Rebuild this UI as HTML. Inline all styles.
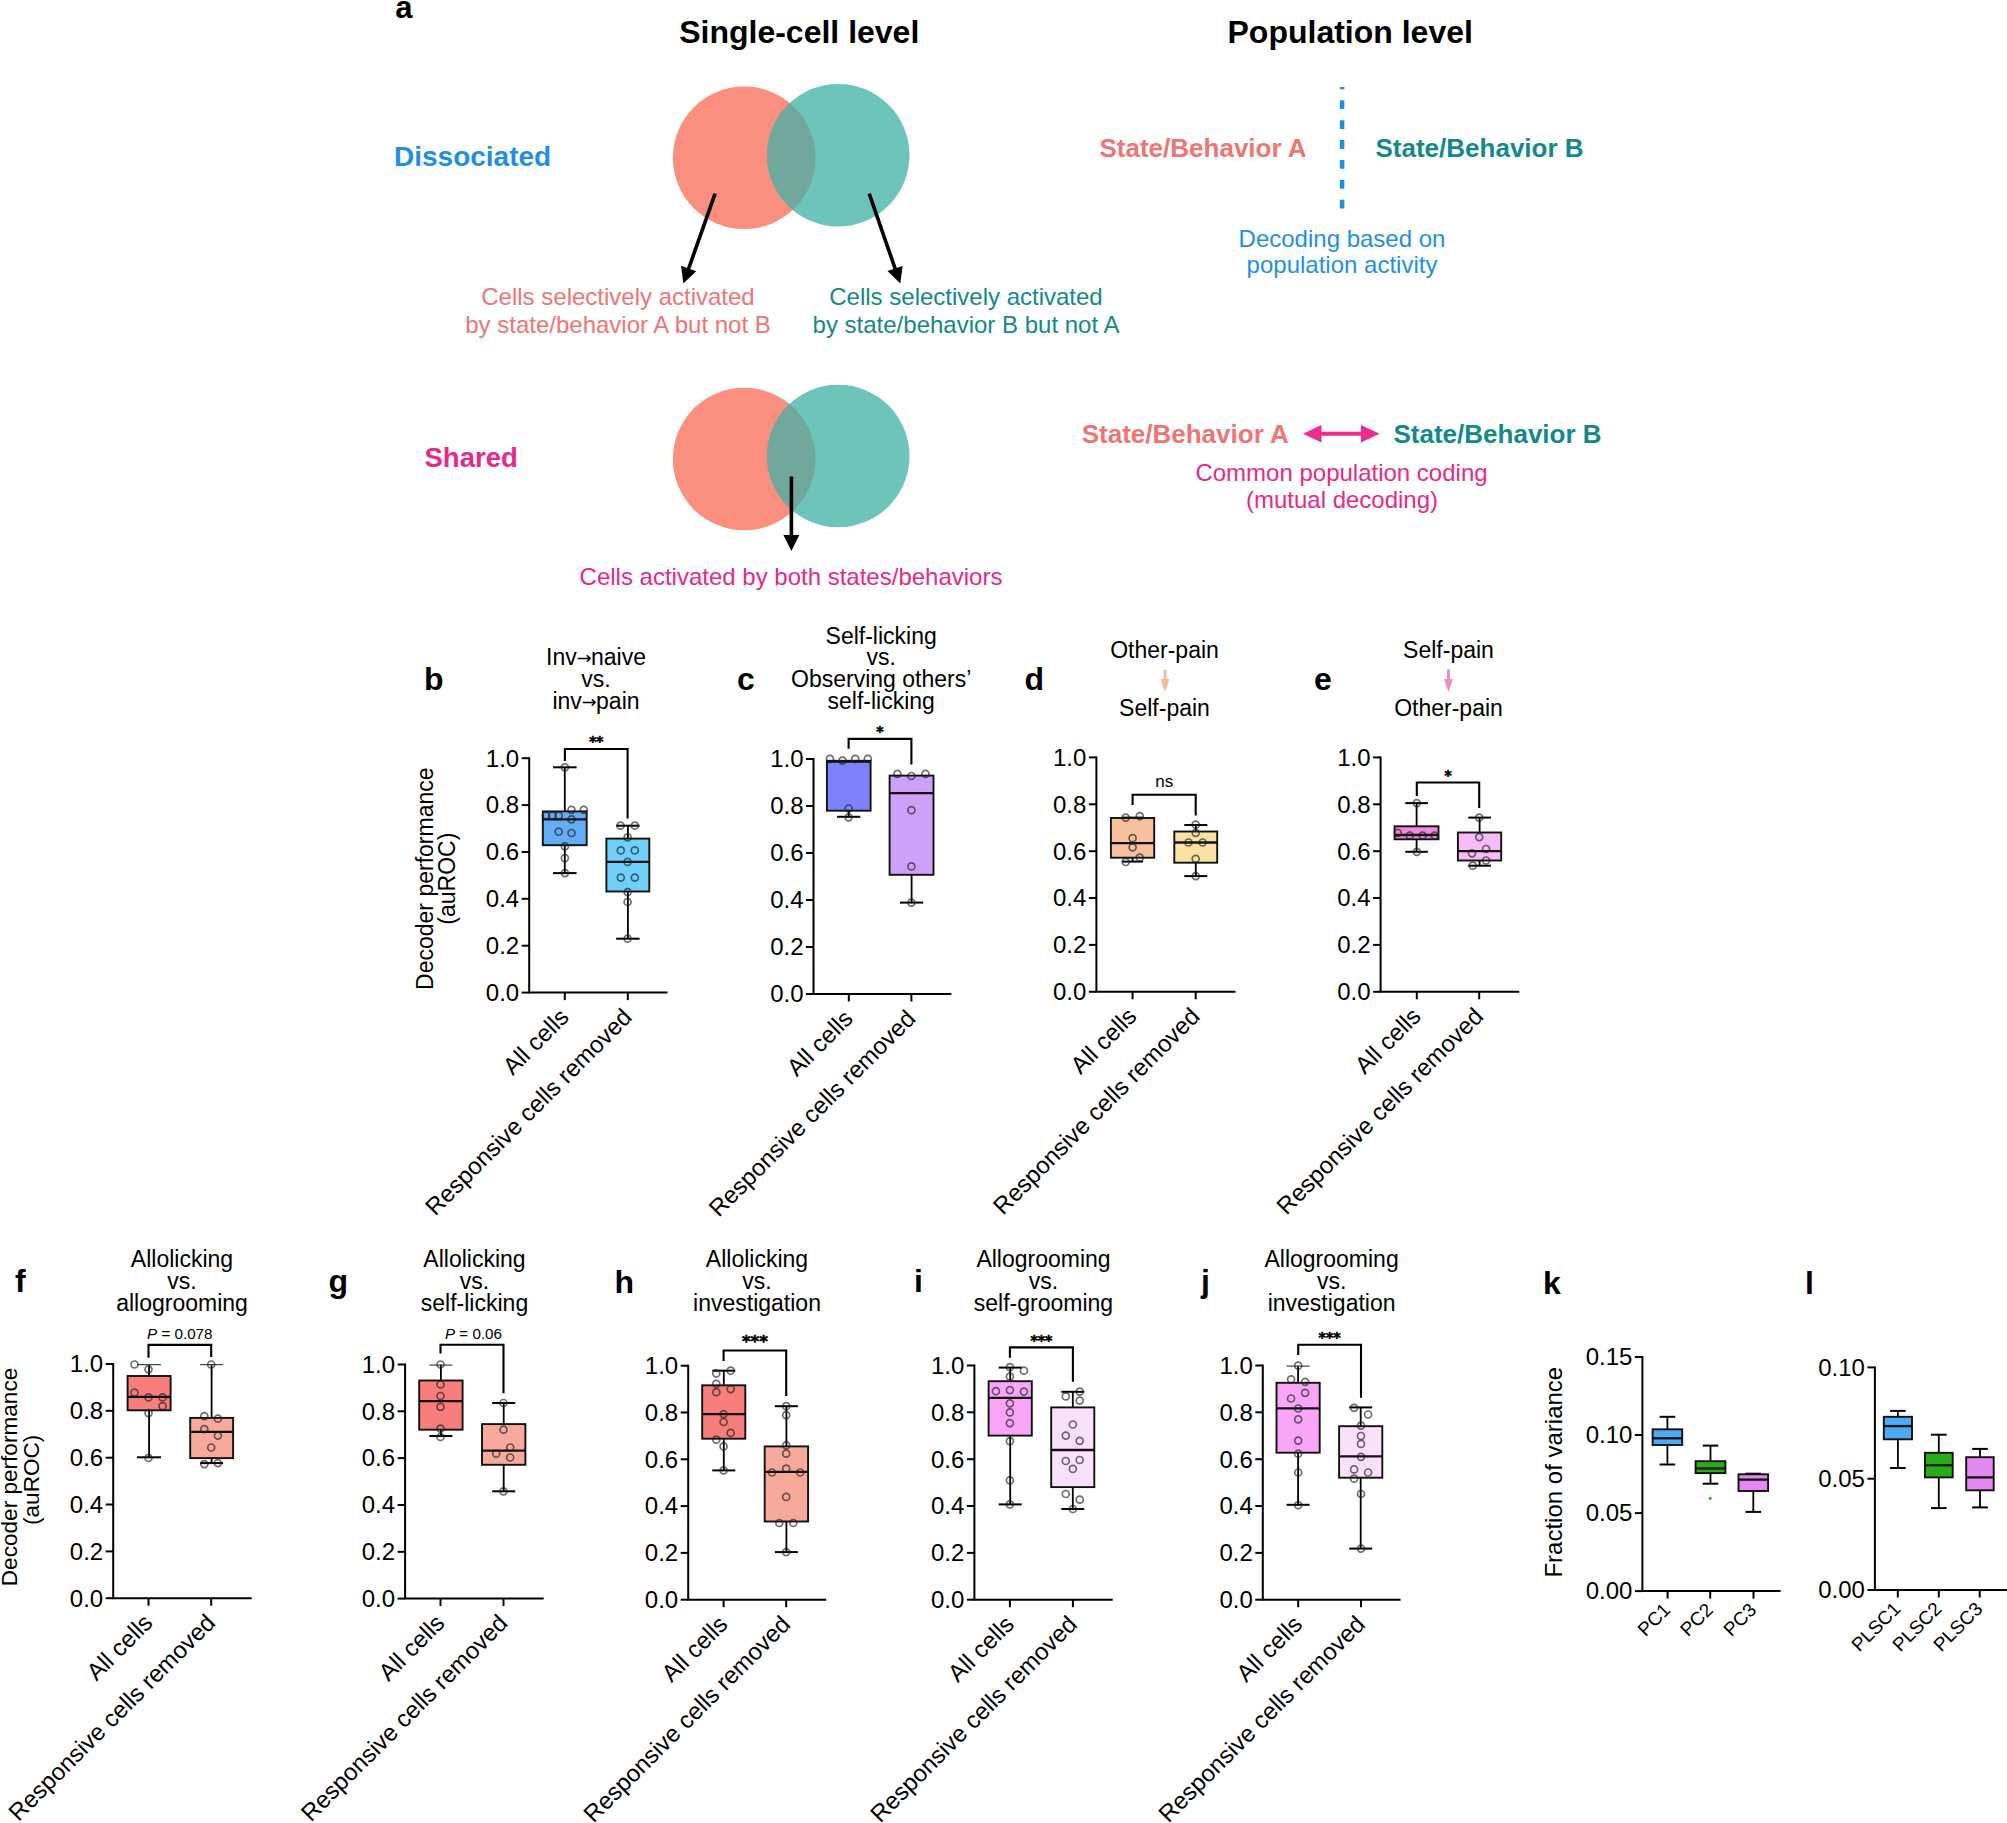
<!DOCTYPE html>
<html><head><meta charset="utf-8"><title>Figure</title>
<style>
html,body{margin:0;padding:0;background:#fff;}
svg{display:block;}
svg text{font-family:'Liberation Sans', Arial, Helvetica, sans-serif;}
</style></head>
<body>
<svg width="2007" height="1823" viewBox="0 0 2007 1823">
<rect x="0" y="0" width="2007" height="1823" fill="#fff"/>
<text x="395.2" y="18.0" font-size="31" text-anchor="start" font-weight="bold" fill="#000" >a</text>
<text x="679.2" y="43.3" font-size="32" text-anchor="start" font-weight="bold" fill="#000" >Single-cell level</text>
<text x="1227.5" y="43.3" font-size="32" text-anchor="start" font-weight="bold" fill="#000" >Population level</text>
<text x="394.0" y="166.1" font-size="28" text-anchor="start" font-weight="bold" fill="#1f8fe6" >Dissociated</text>
<text x="424.5" y="466.6" font-size="27.5" text-anchor="start" font-weight="bold" fill="#e8288a" >Shared</text>
<circle cx="744.2" cy="157.8" r="71.3" fill="#fb8f7f"/>
<circle cx="838.2" cy="155.2" r="71.3" fill="#6cc4bb"/>
<clipPath id="clipv157"><circle cx="744.2" cy="157.8" r="71.3"/></clipPath>
<circle cx="838.2" cy="155.2" r="71.3" fill="#72a89b" clip-path="url(#clipv157)"/>
<circle cx="744.2" cy="459.0" r="71.3" fill="#fb8f7f"/>
<circle cx="838.2" cy="456.0" r="71.3" fill="#6cc4bb"/>
<clipPath id="clipv459"><circle cx="744.2" cy="459.0" r="71.3"/></clipPath>
<circle cx="838.2" cy="456.0" r="71.3" fill="#72a89b" clip-path="url(#clipv459)"/>
<line x1="715.1" y1="193.6" x2="688.3" y2="269.5" stroke="#000" stroke-width="3.6" />
<polygon points="683.3,283.6 681.1,265.8 696.2,271.2" fill="#000"/>
<line x1="869.2" y1="193.6" x2="895.4" y2="269.4" stroke="#000" stroke-width="3.6" />
<polygon points="900.3,283.6 887.5,271.1 902.6,265.9" fill="#000"/>
<line x1="791.4" y1="476.5" x2="791.4" y2="536.0" stroke="#000" stroke-width="3.6" />
<polygon points="791.4,551.0 783.4,535.0 799.4,535.0" fill="#000"/>
<text x="618.0" y="305.2" font-size="24" text-anchor="middle" fill="#ef7574" >Cells selectively activated</text>
<text x="618.0" y="332.9" font-size="24" text-anchor="middle" fill="#ef7574" >by state/behavior A but not B</text>
<text x="966.0" y="305.2" font-size="24" text-anchor="middle" fill="#13898a" >Cells selectively activated</text>
<text x="966.0" y="333.0" font-size="24" text-anchor="middle" fill="#13898a" >by state/behavior B but not A</text>
<text x="791.0" y="585.0" font-size="24" text-anchor="middle" fill="#e8288a" >Cells activated by both states/behaviors</text>
<text x="1099.5" y="156.7" font-size="26" text-anchor="start" font-weight="bold" fill="#ef7574" >State/Behavior A</text>
<text x="1375.5" y="156.7" font-size="26" text-anchor="start" font-weight="bold" fill="#13898a" >State/Behavior B</text>
<line x1="1342.1" y1="87" x2="1342.1" y2="208.7" stroke="#1f8fe6" stroke-width="4.5" stroke-dasharray="8.8 11.1" stroke-dashoffset="6.6"/>
<text x="1342.0" y="246.5" font-size="24" text-anchor="middle" fill="#1f8fe6" >Decoding based on</text>
<text x="1342.0" y="273.0" font-size="24" text-anchor="middle" fill="#1f8fe6" >population activity</text>
<text x="1081.7" y="442.9" font-size="26" text-anchor="start" font-weight="bold" fill="#ef7574" >State/Behavior A</text>
<text x="1393.5" y="442.9" font-size="26" text-anchor="start" font-weight="bold" fill="#13898a" >State/Behavior B</text>
<line x1="1315" y1="433.8" x2="1367" y2="433.8" stroke="#ec2d8d" stroke-width="4"/>
<polygon points="1302.9,433.8 1321.5,425 1321.5,442.6" fill="#ec2d8d"/>
<polygon points="1379.7,433.8 1361,425 1361,442.6" fill="#ec2d8d"/>
<text x="1341.5" y="480.8" font-size="24" text-anchor="middle" fill="#e8288a" >Common population coding</text>
<text x="1342.0" y="508.3" font-size="24" text-anchor="middle" fill="#e8288a" >(mutual decoding)</text>
<line x1="564.8" y1="811.4" x2="564.8" y2="767.3" stroke="#000" stroke-width="1.8" />
<line x1="553.0" y1="767.3" x2="576.6" y2="767.3" stroke="#000" stroke-width="2" />
<line x1="564.8" y1="845.2" x2="564.8" y2="873.1" stroke="#000" stroke-width="1.8" />
<line x1="553.0" y1="873.1" x2="576.6" y2="873.1" stroke="#000" stroke-width="2" />
<rect x="542.8" y="811.4" width="43.9" height="33.8" fill="#62adf6" stroke="#111" stroke-width="1.9"/>
<line x1="542.8" y1="819.3" x2="586.8" y2="819.3" stroke="#111" stroke-width="2.3" />
<circle cx="564.9" cy="767.3" r="3.5" fill="none" stroke="rgba(30,30,30,0.64)" stroke-width="1.7"/>
<circle cx="571.5" cy="809.8" r="3.5" fill="none" stroke="rgba(30,30,30,0.64)" stroke-width="1.7"/>
<circle cx="583.8" cy="809.8" r="3.5" fill="none" stroke="rgba(30,30,30,0.64)" stroke-width="1.7"/>
<circle cx="545.9" cy="815.6" r="3.5" fill="none" stroke="rgba(30,30,30,0.64)" stroke-width="1.7"/>
<circle cx="552.5" cy="815.6" r="3.5" fill="none" stroke="rgba(30,30,30,0.64)" stroke-width="1.7"/>
<circle cx="558.7" cy="815.6" r="3.5" fill="none" stroke="rgba(30,30,30,0.64)" stroke-width="1.7"/>
<circle cx="571.5" cy="819.3" r="3.5" fill="none" stroke="rgba(30,30,30,0.64)" stroke-width="1.7"/>
<circle cx="558.7" cy="831.7" r="3.5" fill="none" stroke="rgba(30,30,30,0.64)" stroke-width="1.7"/>
<circle cx="571.5" cy="833.0" r="3.5" fill="none" stroke="rgba(30,30,30,0.64)" stroke-width="1.7"/>
<circle cx="564.9" cy="846.3" r="3.5" fill="none" stroke="rgba(30,30,30,0.64)" stroke-width="1.7"/>
<circle cx="564.9" cy="858.1" r="3.5" fill="none" stroke="rgba(30,30,30,0.64)" stroke-width="1.7"/>
<circle cx="564.9" cy="873.1" r="3.5" fill="none" stroke="rgba(30,30,30,0.64)" stroke-width="1.7"/>
<line x1="627.9" y1="838.6" x2="627.9" y2="825.7" stroke="#000" stroke-width="1.8" />
<line x1="616.2" y1="825.7" x2="639.6" y2="825.7" stroke="#000" stroke-width="2" />
<line x1="627.9" y1="891.5" x2="627.9" y2="938.7" stroke="#000" stroke-width="1.8" />
<line x1="616.2" y1="938.7" x2="639.6" y2="938.7" stroke="#000" stroke-width="2" />
<rect x="606.4" y="838.6" width="42.9" height="52.9" fill="#6fd1f9" stroke="#111" stroke-width="1.9"/>
<line x1="606.4" y1="861.9" x2="649.4" y2="861.9" stroke="#111" stroke-width="2.3" />
<circle cx="620.5" cy="825.7" r="3.5" fill="none" stroke="rgba(30,30,30,0.64)" stroke-width="1.7"/>
<circle cx="634.8" cy="825.7" r="3.5" fill="none" stroke="rgba(30,30,30,0.64)" stroke-width="1.7"/>
<circle cx="627.6" cy="837.4" r="3.5" fill="none" stroke="rgba(30,30,30,0.64)" stroke-width="1.7"/>
<circle cx="620.8" cy="850.4" r="3.5" fill="none" stroke="rgba(30,30,30,0.64)" stroke-width="1.7"/>
<circle cx="634.8" cy="850.4" r="3.5" fill="none" stroke="rgba(30,30,30,0.64)" stroke-width="1.7"/>
<circle cx="627.6" cy="861.9" r="3.5" fill="none" stroke="rgba(30,30,30,0.64)" stroke-width="1.7"/>
<circle cx="620.8" cy="877.6" r="3.5" fill="none" stroke="rgba(30,30,30,0.64)" stroke-width="1.7"/>
<circle cx="634.8" cy="877.6" r="3.5" fill="none" stroke="rgba(30,30,30,0.64)" stroke-width="1.7"/>
<circle cx="627.6" cy="892.1" r="3.5" fill="none" stroke="rgba(30,30,30,0.64)" stroke-width="1.7"/>
<circle cx="627.6" cy="902.0" r="3.5" fill="none" stroke="rgba(30,30,30,0.64)" stroke-width="1.7"/>
<circle cx="627.6" cy="938.7" r="3.5" fill="none" stroke="rgba(30,30,30,0.64)" stroke-width="1.7"/>
<path d="M529.2,757.2 L529.2,992.6 L667.5,992.6" fill="none" stroke="#000" stroke-width="2"/>
<line x1="521.7" y1="992.6" x2="529.2" y2="992.6" stroke="#000" stroke-width="2" />
<text x="519.2" y="1000.9" font-size="24" text-anchor="end" fill="#000" >0.0</text>
<line x1="521.7" y1="945.7" x2="529.2" y2="945.7" stroke="#000" stroke-width="2" />
<text x="519.2" y="954.0" font-size="24" text-anchor="end" fill="#000" >0.2</text>
<line x1="521.7" y1="898.8" x2="529.2" y2="898.8" stroke="#000" stroke-width="2" />
<text x="519.2" y="907.1" font-size="24" text-anchor="end" fill="#000" >0.4</text>
<line x1="521.7" y1="852.0" x2="529.2" y2="852.0" stroke="#000" stroke-width="2" />
<text x="519.2" y="860.3" font-size="24" text-anchor="end" fill="#000" >0.6</text>
<line x1="521.7" y1="805.1" x2="529.2" y2="805.1" stroke="#000" stroke-width="2" />
<text x="519.2" y="813.4" font-size="24" text-anchor="end" fill="#000" >0.8</text>
<line x1="521.7" y1="758.2" x2="529.2" y2="758.2" stroke="#000" stroke-width="2" />
<text x="519.2" y="766.5" font-size="24" text-anchor="end" fill="#000" >1.0</text>
<line x1="564.8" y1="992.6" x2="564.8" y2="1000.1" stroke="#000" stroke-width="2" />
<line x1="627.8" y1="992.6" x2="627.8" y2="1000.1" stroke="#000" stroke-width="2" />
<text x="0.0" y="0.0" font-size="24" text-anchor="end" fill="#000" transform="translate(570.3,1018.6) rotate(-45)">All cells</text>
<text x="0.0" y="0.0" font-size="24" text-anchor="end" fill="#000" transform="translate(633.3,1018.6) rotate(-45)">Responsive cells removed</text>
<path d="M564.9,761.0 L564.9,749.0 L627.6,749.0 L627.6,818.6" fill="none" stroke="#000" stroke-width="2.1"/>
<text x="596.2" y="746.4" font-size="13.5" text-anchor="middle" font-weight="bold" fill="#000" style="font-family:DejaVu Sans,sans-serif" stroke="#000" stroke-width="0.6">**</text>
<text x="596.0" y="665.2" font-size="23" text-anchor="middle" fill="#000" >Inv<tspan style="font-family:DejaVu Sans,sans-serif" font-size="17.7" dy="-0.8">→</tspan><tspan dx="-0.6" dy="0.8">naive</tspan></text>
<text x="596.0" y="687.3" font-size="23" text-anchor="middle" fill="#000" >vs.</text>
<text x="596.0" y="708.7" font-size="23" text-anchor="middle" fill="#000" >inv<tspan style="font-family:DejaVu Sans,sans-serif" font-size="17.7" dy="-0.8">→</tspan><tspan dx="-0.6" dy="0.8">pain</tspan></text>
<text x="424.0" y="690.2" font-size="32" text-anchor="start" font-weight="bold" fill="#000" >b</text>
<text x="0.0" y="0.0" font-size="23" text-anchor="middle" fill="#000" transform="translate(433.3,878.7) rotate(-90)">Decoder performance</text>
<text x="0.0" y="0.0" font-size="23" text-anchor="middle" fill="#000" transform="translate(454.8,878.7) rotate(-90)">(auROC)</text>
<line x1="848.7" y1="810.7" x2="848.7" y2="816.8" stroke="#000" stroke-width="1.8" />
<line x1="837.1" y1="816.8" x2="860.3" y2="816.8" stroke="#000" stroke-width="2" />
<rect x="826.9" y="760.8" width="43.7" height="49.9" fill="#7d82fa" stroke="#111" stroke-width="1.9"/>
<line x1="826.9" y1="761.5" x2="870.6" y2="761.5" stroke="#111" stroke-width="2.3" />
<circle cx="830.0" cy="758.9" r="3.5" fill="none" stroke="rgba(30,30,30,0.64)" stroke-width="1.7"/>
<circle cx="842.5" cy="760.6" r="3.5" fill="none" stroke="rgba(30,30,30,0.64)" stroke-width="1.7"/>
<circle cx="855.2" cy="758.9" r="3.5" fill="none" stroke="rgba(30,30,30,0.64)" stroke-width="1.7"/>
<circle cx="867.8" cy="758.9" r="3.5" fill="none" stroke="rgba(30,30,30,0.64)" stroke-width="1.7"/>
<circle cx="848.6" cy="808.5" r="3.5" fill="none" stroke="rgba(30,30,30,0.64)" stroke-width="1.7"/>
<circle cx="848.6" cy="817.3" r="3.5" fill="none" stroke="rgba(30,30,30,0.64)" stroke-width="1.7"/>
<line x1="911.6" y1="874.8" x2="911.6" y2="902.6" stroke="#000" stroke-width="1.8" />
<line x1="900.0" y1="902.6" x2="923.2" y2="902.6" stroke="#000" stroke-width="2" />
<rect x="889.6" y="775.6" width="43.9" height="99.2" fill="#cda0fa" stroke="#111" stroke-width="1.9"/>
<line x1="889.6" y1="793.1" x2="933.6" y2="793.1" stroke="#111" stroke-width="2.3" />
<circle cx="897.4" cy="773.8" r="3.5" fill="none" stroke="rgba(30,30,30,0.64)" stroke-width="1.7"/>
<circle cx="911.4" cy="776.0" r="3.5" fill="none" stroke="rgba(30,30,30,0.64)" stroke-width="1.7"/>
<circle cx="925.5" cy="773.8" r="3.5" fill="none" stroke="rgba(30,30,30,0.64)" stroke-width="1.7"/>
<circle cx="911.4" cy="810.2" r="3.5" fill="none" stroke="rgba(30,30,30,0.64)" stroke-width="1.7"/>
<circle cx="911.4" cy="866.4" r="3.5" fill="none" stroke="rgba(30,30,30,0.64)" stroke-width="1.7"/>
<circle cx="911.4" cy="902.6" r="3.5" fill="none" stroke="rgba(30,30,30,0.64)" stroke-width="1.7"/>
<path d="M813.5,758.0 L813.5,994.0 L951.4,994.0" fill="none" stroke="#000" stroke-width="2"/>
<line x1="806.0" y1="994.0" x2="813.5" y2="994.0" stroke="#000" stroke-width="2" />
<text x="803.5" y="1002.3" font-size="24" text-anchor="end" fill="#000" >0.0</text>
<line x1="806.0" y1="947.0" x2="813.5" y2="947.0" stroke="#000" stroke-width="2" />
<text x="803.5" y="955.3" font-size="24" text-anchor="end" fill="#000" >0.2</text>
<line x1="806.0" y1="900.0" x2="813.5" y2="900.0" stroke="#000" stroke-width="2" />
<text x="803.5" y="908.3" font-size="24" text-anchor="end" fill="#000" >0.4</text>
<line x1="806.0" y1="853.0" x2="813.5" y2="853.0" stroke="#000" stroke-width="2" />
<text x="803.5" y="861.3" font-size="24" text-anchor="end" fill="#000" >0.6</text>
<line x1="806.0" y1="806.0" x2="813.5" y2="806.0" stroke="#000" stroke-width="2" />
<text x="803.5" y="814.3" font-size="24" text-anchor="end" fill="#000" >0.8</text>
<line x1="806.0" y1="759.0" x2="813.5" y2="759.0" stroke="#000" stroke-width="2" />
<text x="803.5" y="767.3" font-size="24" text-anchor="end" fill="#000" >1.0</text>
<line x1="848.8" y1="994.0" x2="848.8" y2="1001.5" stroke="#000" stroke-width="2" />
<line x1="911.4" y1="994.0" x2="911.4" y2="1001.5" stroke="#000" stroke-width="2" />
<text x="0.0" y="0.0" font-size="24" text-anchor="end" fill="#000" transform="translate(854.3,1020.0) rotate(-45)">All cells</text>
<text x="0.0" y="0.0" font-size="24" text-anchor="end" fill="#000" transform="translate(916.9,1020.0) rotate(-45)">Responsive cells removed</text>
<path d="M848.6,748.8 L848.6,738.9 L911.4,738.9 L911.4,764.6" fill="none" stroke="#000" stroke-width="2.1"/>
<text x="880.0" y="736.4" font-size="14" text-anchor="middle" font-weight="bold" fill="#000" style="font-family:DejaVu Sans,sans-serif" stroke="#000" stroke-width="0.6">*</text>
<text x="881.2" y="643.6" font-size="23" text-anchor="middle" fill="#000" >Self-licking</text>
<text x="881.2" y="665.0" font-size="23" text-anchor="middle" fill="#000" >vs.</text>
<text x="881.2" y="686.6" font-size="23" text-anchor="middle" fill="#000" >Observing others’</text>
<text x="881.2" y="708.6" font-size="23" text-anchor="middle" fill="#000" >self-licking</text>
<text x="737.0" y="689.7" font-size="32" text-anchor="start" font-weight="bold" fill="#000" >c</text>
<line x1="1132.6" y1="818.0" x2="1132.6" y2="817.6" stroke="#000" stroke-width="1.8" />
<line x1="1122.1" y1="817.6" x2="1143.1" y2="817.6" stroke="#000" stroke-width="2" />
<line x1="1132.6" y1="857.7" x2="1132.6" y2="861.6" stroke="#000" stroke-width="1.8" />
<line x1="1122.1" y1="861.6" x2="1143.1" y2="861.6" stroke="#000" stroke-width="2" />
<rect x="1110.9" y="818.0" width="43.3" height="39.7" fill="#f9c09e" stroke="#111" stroke-width="1.9"/>
<line x1="1110.9" y1="843.2" x2="1154.2" y2="843.2" stroke="#111" stroke-width="2.3" />
<circle cx="1125.7" cy="817.6" r="3.5" fill="none" stroke="rgba(30,30,30,0.64)" stroke-width="1.7"/>
<circle cx="1139.8" cy="816.1" r="3.5" fill="none" stroke="rgba(30,30,30,0.64)" stroke-width="1.7"/>
<circle cx="1132.6" cy="838.2" r="3.5" fill="none" stroke="rgba(30,30,30,0.64)" stroke-width="1.7"/>
<circle cx="1132.6" cy="847.3" r="3.5" fill="none" stroke="rgba(30,30,30,0.64)" stroke-width="1.7"/>
<circle cx="1125.7" cy="862.0" r="3.5" fill="none" stroke="rgba(30,30,30,0.64)" stroke-width="1.7"/>
<circle cx="1139.8" cy="857.7" r="3.5" fill="none" stroke="rgba(30,30,30,0.64)" stroke-width="1.7"/>
<line x1="1195.8" y1="831.5" x2="1195.8" y2="825.0" stroke="#000" stroke-width="1.8" />
<line x1="1184.3" y1="825.0" x2="1207.3" y2="825.0" stroke="#000" stroke-width="2" />
<line x1="1195.8" y1="862.7" x2="1195.8" y2="876.1" stroke="#000" stroke-width="1.8" />
<line x1="1184.3" y1="876.1" x2="1207.3" y2="876.1" stroke="#000" stroke-width="2" />
<rect x="1174.3" y="831.5" width="42.9" height="31.2" fill="#f9e2a3" stroke="#111" stroke-width="1.9"/>
<line x1="1174.3" y1="842.5" x2="1217.2" y2="842.5" stroke="#111" stroke-width="2.3" />
<circle cx="1195.7" cy="824.7" r="3.5" fill="none" stroke="rgba(30,30,30,0.64)" stroke-width="1.7"/>
<circle cx="1195.7" cy="832.8" r="3.5" fill="none" stroke="rgba(30,30,30,0.64)" stroke-width="1.7"/>
<circle cx="1188.5" cy="842.5" r="3.5" fill="none" stroke="rgba(30,30,30,0.64)" stroke-width="1.7"/>
<circle cx="1202.6" cy="842.5" r="3.5" fill="none" stroke="rgba(30,30,30,0.64)" stroke-width="1.7"/>
<circle cx="1195.7" cy="858.8" r="3.5" fill="none" stroke="rgba(30,30,30,0.64)" stroke-width="1.7"/>
<circle cx="1195.7" cy="876.1" r="3.5" fill="none" stroke="rgba(30,30,30,0.64)" stroke-width="1.7"/>
<path d="M1096.4,756.4 L1096.4,991.8 L1235.5,991.8" fill="none" stroke="#000" stroke-width="2"/>
<line x1="1088.9" y1="991.8" x2="1096.4" y2="991.8" stroke="#000" stroke-width="2" />
<text x="1086.4" y="1000.1" font-size="24" text-anchor="end" fill="#000" >0.0</text>
<line x1="1088.9" y1="944.9" x2="1096.4" y2="944.9" stroke="#000" stroke-width="2" />
<text x="1086.4" y="953.2" font-size="24" text-anchor="end" fill="#000" >0.2</text>
<line x1="1088.9" y1="898.0" x2="1096.4" y2="898.0" stroke="#000" stroke-width="2" />
<text x="1086.4" y="906.3" font-size="24" text-anchor="end" fill="#000" >0.4</text>
<line x1="1088.9" y1="851.2" x2="1096.4" y2="851.2" stroke="#000" stroke-width="2" />
<text x="1086.4" y="859.5" font-size="24" text-anchor="end" fill="#000" >0.6</text>
<line x1="1088.9" y1="804.3" x2="1096.4" y2="804.3" stroke="#000" stroke-width="2" />
<text x="1086.4" y="812.6" font-size="24" text-anchor="end" fill="#000" >0.8</text>
<line x1="1088.9" y1="757.4" x2="1096.4" y2="757.4" stroke="#000" stroke-width="2" />
<text x="1086.4" y="765.7" font-size="24" text-anchor="end" fill="#000" >1.0</text>
<line x1="1132.6" y1="991.8" x2="1132.6" y2="999.3" stroke="#000" stroke-width="2" />
<line x1="1195.7" y1="991.8" x2="1195.7" y2="999.3" stroke="#000" stroke-width="2" />
<text x="0.0" y="0.0" font-size="24" text-anchor="end" fill="#000" transform="translate(1138.1,1017.8) rotate(-45)">All cells</text>
<text x="0.0" y="0.0" font-size="24" text-anchor="end" fill="#000" transform="translate(1201.2,1017.8) rotate(-45)">Responsive cells removed</text>
<path d="M1132.6,805.0 L1132.6,794.8 L1195.7,794.8 L1195.7,815.4" fill="none" stroke="#000" stroke-width="2.1"/>
<text x="1164.2" y="786.5" font-size="17" text-anchor="middle" fill="#000" >ns</text>
<text x="1164.5" y="658.3" font-size="23" text-anchor="middle" fill="#000" >Other-pain</text>
<text x="1164.5" y="715.8" font-size="23" text-anchor="middle" fill="#000" >Self-pain</text>
<text x="1024.5" y="689.8" font-size="32" text-anchor="start" font-weight="bold" fill="#000" >d</text>
<line x1="1165.0" y1="669.8" x2="1165.0" y2="680" stroke="#f2bb95" stroke-width="3"/>
<polygon points="1165.0,692.2 1160.6,679 1169.4,679" fill="#f2bb95"/>
<line x1="1416.6" y1="826.3" x2="1416.6" y2="803.1" stroke="#000" stroke-width="1.8" />
<line x1="1405.3" y1="803.1" x2="1427.9" y2="803.1" stroke="#000" stroke-width="2" />
<line x1="1416.6" y1="839.3" x2="1416.6" y2="851.8" stroke="#000" stroke-width="1.8" />
<line x1="1405.3" y1="851.8" x2="1427.9" y2="851.8" stroke="#000" stroke-width="2" />
<rect x="1394.6" y="826.3" width="43.9" height="13.0" fill="#f189e0" stroke="#111" stroke-width="1.9"/>
<line x1="1394.6" y1="835.0" x2="1438.5" y2="835.0" stroke="#111" stroke-width="2.3" />
<circle cx="1416.8" cy="803.1" r="3.5" fill="none" stroke="rgba(30,30,30,0.64)" stroke-width="1.7"/>
<circle cx="1397.7" cy="832.8" r="3.5" fill="none" stroke="rgba(30,30,30,0.64)" stroke-width="1.7"/>
<circle cx="1409.8" cy="835.6" r="3.5" fill="none" stroke="rgba(30,30,30,0.64)" stroke-width="1.7"/>
<circle cx="1422.6" cy="835.6" r="3.5" fill="none" stroke="rgba(30,30,30,0.64)" stroke-width="1.7"/>
<circle cx="1434.7" cy="835.6" r="3.5" fill="none" stroke="rgba(30,30,30,0.64)" stroke-width="1.7"/>
<circle cx="1416.8" cy="851.8" r="3.5" fill="none" stroke="rgba(30,30,30,0.64)" stroke-width="1.7"/>
<line x1="1479.6" y1="832.5" x2="1479.6" y2="817.6" stroke="#000" stroke-width="1.8" />
<line x1="1468.3" y1="817.6" x2="1490.9" y2="817.6" stroke="#000" stroke-width="2" />
<line x1="1479.6" y1="860.5" x2="1479.6" y2="865.7" stroke="#000" stroke-width="1.8" />
<line x1="1468.3" y1="865.7" x2="1490.9" y2="865.7" stroke="#000" stroke-width="2" />
<rect x="1457.9" y="832.5" width="43.3" height="28.0" fill="#f7bcf7" stroke="#111" stroke-width="1.9"/>
<line x1="1457.9" y1="851.2" x2="1501.2" y2="851.2" stroke="#111" stroke-width="2.3" />
<circle cx="1479.2" cy="817.6" r="3.5" fill="none" stroke="rgba(30,30,30,0.64)" stroke-width="1.7"/>
<circle cx="1479.2" cy="837.1" r="3.5" fill="none" stroke="rgba(30,30,30,0.64)" stroke-width="1.7"/>
<circle cx="1472.0" cy="853.3" r="3.5" fill="none" stroke="rgba(30,30,30,0.64)" stroke-width="1.7"/>
<circle cx="1486.1" cy="849.0" r="3.5" fill="none" stroke="rgba(30,30,30,0.64)" stroke-width="1.7"/>
<circle cx="1486.1" cy="860.5" r="3.5" fill="none" stroke="rgba(30,30,30,0.64)" stroke-width="1.7"/>
<circle cx="1472.7" cy="865.7" r="3.5" fill="none" stroke="rgba(30,30,30,0.64)" stroke-width="1.7"/>
<path d="M1380.6,756.4 L1380.6,991.8 L1519.3,991.8" fill="none" stroke="#000" stroke-width="2"/>
<line x1="1373.1" y1="991.8" x2="1380.6" y2="991.8" stroke="#000" stroke-width="2" />
<text x="1370.6" y="1000.1" font-size="24" text-anchor="end" fill="#000" >0.0</text>
<line x1="1373.1" y1="944.9" x2="1380.6" y2="944.9" stroke="#000" stroke-width="2" />
<text x="1370.6" y="953.2" font-size="24" text-anchor="end" fill="#000" >0.2</text>
<line x1="1373.1" y1="898.0" x2="1380.6" y2="898.0" stroke="#000" stroke-width="2" />
<text x="1370.6" y="906.3" font-size="24" text-anchor="end" fill="#000" >0.4</text>
<line x1="1373.1" y1="851.2" x2="1380.6" y2="851.2" stroke="#000" stroke-width="2" />
<text x="1370.6" y="859.5" font-size="24" text-anchor="end" fill="#000" >0.6</text>
<line x1="1373.1" y1="804.3" x2="1380.6" y2="804.3" stroke="#000" stroke-width="2" />
<text x="1370.6" y="812.6" font-size="24" text-anchor="end" fill="#000" >0.8</text>
<line x1="1373.1" y1="757.4" x2="1380.6" y2="757.4" stroke="#000" stroke-width="2" />
<text x="1370.6" y="765.7" font-size="24" text-anchor="end" fill="#000" >1.0</text>
<line x1="1416.8" y1="991.8" x2="1416.8" y2="999.3" stroke="#000" stroke-width="2" />
<line x1="1479.2" y1="991.8" x2="1479.2" y2="999.3" stroke="#000" stroke-width="2" />
<text x="0.0" y="0.0" font-size="24" text-anchor="end" fill="#000" transform="translate(1422.3,1017.8) rotate(-45)">All cells</text>
<text x="0.0" y="0.0" font-size="24" text-anchor="end" fill="#000" transform="translate(1484.7,1017.8) rotate(-45)">Responsive cells removed</text>
<path d="M1416.8,796.0 L1416.8,782.5 L1479.2,782.5 L1479.2,808.0" fill="none" stroke="#000" stroke-width="2.1"/>
<text x="1448.0" y="779.9" font-size="13.5" text-anchor="middle" font-weight="bold" fill="#000" style="font-family:DejaVu Sans,sans-serif" stroke="#000" stroke-width="0.6">*</text>
<text x="1448.5" y="658.3" font-size="23" text-anchor="middle" fill="#000" >Self-pain</text>
<text x="1448.5" y="715.8" font-size="23" text-anchor="middle" fill="#000" >Other-pain</text>
<text x="1314.0" y="689.8" font-size="32" text-anchor="start" font-weight="bold" fill="#000" >e</text>
<line x1="1448.5" y1="669.4" x2="1448.5" y2="680" stroke="#ee8dd6" stroke-width="3"/>
<polygon points="1448.5,692.2 1444.0,679 1453.0,679" fill="#ee8dd6"/>
<line x1="149.1" y1="1376.0" x2="149.1" y2="1364.5" stroke="#000" stroke-width="1.8" />
<line x1="137.1" y1="1364.6" x2="161.1" y2="1364.6" stroke="#444" stroke-width="1.2" />
<line x1="149.1" y1="1410.3" x2="149.1" y2="1457.3" stroke="#000" stroke-width="1.8" />
<line x1="137.1" y1="1457.3" x2="161.1" y2="1457.3" stroke="#000" stroke-width="2" />
<rect x="127.6" y="1376.0" width="43.0" height="34.3" fill="#f87e7b" stroke="#111" stroke-width="1.9"/>
<line x1="127.6" y1="1396.8" x2="170.6" y2="1396.8" stroke="#111" stroke-width="2.3" />
<circle cx="134.5" cy="1364.5" r="3.5" fill="none" stroke="rgba(30,30,30,0.64)" stroke-width="1.7"/>
<circle cx="148.5" cy="1369.3" r="3.5" fill="none" stroke="rgba(30,30,30,0.64)" stroke-width="1.7"/>
<circle cx="134.5" cy="1392.6" r="3.5" fill="none" stroke="rgba(30,30,30,0.64)" stroke-width="1.7"/>
<circle cx="148.5" cy="1397.4" r="3.5" fill="none" stroke="rgba(30,30,30,0.64)" stroke-width="1.7"/>
<circle cx="162.6" cy="1397.4" r="3.5" fill="none" stroke="rgba(30,30,30,0.64)" stroke-width="1.7"/>
<circle cx="162.6" cy="1406.2" r="3.5" fill="none" stroke="rgba(30,30,30,0.64)" stroke-width="1.7"/>
<circle cx="148.5" cy="1413.1" r="3.5" fill="none" stroke="rgba(30,30,30,0.64)" stroke-width="1.7"/>
<circle cx="148.5" cy="1457.9" r="3.5" fill="none" stroke="rgba(30,30,30,0.64)" stroke-width="1.7"/>
<line x1="211.6" y1="1417.9" x2="211.6" y2="1364.5" stroke="#000" stroke-width="1.8" />
<line x1="200.1" y1="1364.6" x2="223.1" y2="1364.6" stroke="#444" stroke-width="1.2" />
<line x1="211.6" y1="1458.1" x2="211.6" y2="1463.1" stroke="#000" stroke-width="1.8" />
<line x1="200.1" y1="1463.1" x2="223.1" y2="1463.1" stroke="#000" stroke-width="2" />
<rect x="190.2" y="1417.9" width="42.9" height="40.2" fill="#f7aa9c" stroke="#111" stroke-width="1.9"/>
<line x1="190.2" y1="1431.8" x2="233.0" y2="1431.8" stroke="#111" stroke-width="2.3" />
<circle cx="211.2" cy="1364.5" r="3.5" fill="none" stroke="rgba(30,30,30,0.64)" stroke-width="1.7"/>
<circle cx="204.3" cy="1416.2" r="3.5" fill="none" stroke="rgba(30,30,30,0.64)" stroke-width="1.7"/>
<circle cx="217.9" cy="1418.7" r="3.5" fill="none" stroke="rgba(30,30,30,0.64)" stroke-width="1.7"/>
<circle cx="204.3" cy="1429.1" r="3.5" fill="none" stroke="rgba(30,30,30,0.64)" stroke-width="1.7"/>
<circle cx="217.9" cy="1435.6" r="3.5" fill="none" stroke="rgba(30,30,30,0.64)" stroke-width="1.7"/>
<circle cx="211.2" cy="1447.5" r="3.5" fill="none" stroke="rgba(30,30,30,0.64)" stroke-width="1.7"/>
<circle cx="204.3" cy="1464.1" r="3.5" fill="none" stroke="rgba(30,30,30,0.64)" stroke-width="1.7"/>
<circle cx="217.9" cy="1463.1" r="3.5" fill="none" stroke="rgba(30,30,30,0.64)" stroke-width="1.7"/>
<path d="M113.2,1363.0 L113.2,1598.2 L251.7,1598.2" fill="none" stroke="#000" stroke-width="2"/>
<line x1="105.7" y1="1598.2" x2="113.2" y2="1598.2" stroke="#000" stroke-width="2" />
<text x="103.2" y="1606.5" font-size="24" text-anchor="end" fill="#000" >0.0</text>
<line x1="105.7" y1="1551.4" x2="113.2" y2="1551.4" stroke="#000" stroke-width="2" />
<text x="103.2" y="1559.7" font-size="24" text-anchor="end" fill="#000" >0.2</text>
<line x1="105.7" y1="1504.5" x2="113.2" y2="1504.5" stroke="#000" stroke-width="2" />
<text x="103.2" y="1512.8" font-size="24" text-anchor="end" fill="#000" >0.4</text>
<line x1="105.7" y1="1457.7" x2="113.2" y2="1457.7" stroke="#000" stroke-width="2" />
<text x="103.2" y="1466.0" font-size="24" text-anchor="end" fill="#000" >0.6</text>
<line x1="105.7" y1="1410.8" x2="113.2" y2="1410.8" stroke="#000" stroke-width="2" />
<text x="103.2" y="1419.1" font-size="24" text-anchor="end" fill="#000" >0.8</text>
<line x1="105.7" y1="1364.0" x2="113.2" y2="1364.0" stroke="#000" stroke-width="2" />
<text x="103.2" y="1372.3" font-size="24" text-anchor="end" fill="#000" >1.0</text>
<line x1="148.5" y1="1598.2" x2="148.5" y2="1605.7" stroke="#000" stroke-width="2" />
<line x1="211.2" y1="1598.2" x2="211.2" y2="1605.7" stroke="#000" stroke-width="2" />
<text x="0.0" y="0.0" font-size="24" text-anchor="end" fill="#000" transform="translate(154.0,1624.2) rotate(-45)">All cells</text>
<text x="0.0" y="0.0" font-size="24" text-anchor="end" fill="#000" transform="translate(216.7,1624.2) rotate(-45)">Responsive cells removed</text>
<path d="M148.5,1357.8 L148.5,1344.9 L211.2,1344.9 L211.2,1357.0" fill="none" stroke="#000" stroke-width="2.1"/>
<text x="179.8" y="1338.9" font-size="15.2" text-anchor="middle" fill="#000" ><tspan font-style="italic">P</tspan> = 0.078</text>
<text x="182.0" y="1267.1" font-size="23" text-anchor="middle" fill="#000" >Allolicking</text>
<text x="182.0" y="1289.0" font-size="23" text-anchor="middle" fill="#000" >vs.</text>
<text x="182.0" y="1310.9" font-size="23" text-anchor="middle" fill="#000" >allogrooming</text>
<text x="15.0" y="1292.1" font-size="32" text-anchor="start" font-weight="bold" fill="#000" >f</text>
<text x="0.0" y="0.0" font-size="22.6" text-anchor="middle" fill="#000" transform="translate(17.3,1477.0) rotate(-90)">Decoder performance</text>
<text x="0.0" y="0.0" font-size="22.6" text-anchor="middle" fill="#000" transform="translate(39.3,1479.8) rotate(-90)">(auROC)</text>
<line x1="440.9" y1="1380.5" x2="440.9" y2="1364.5" stroke="#000" stroke-width="1.8" />
<line x1="429.4" y1="1365.1" x2="452.4" y2="1365.1" stroke="#444" stroke-width="1.2" />
<line x1="440.9" y1="1429.7" x2="440.9" y2="1436.0" stroke="#000" stroke-width="1.8" />
<line x1="429.4" y1="1436.0" x2="452.4" y2="1436.0" stroke="#000" stroke-width="2" />
<rect x="419.2" y="1380.5" width="43.4" height="49.2" fill="#f87e7b" stroke="#111" stroke-width="1.9"/>
<line x1="419.2" y1="1401.2" x2="462.6" y2="1401.2" stroke="#111" stroke-width="2.3" />
<circle cx="440.5" cy="1364.5" r="3.5" fill="none" stroke="rgba(30,30,30,0.64)" stroke-width="1.7"/>
<circle cx="440.5" cy="1384.5" r="3.5" fill="none" stroke="rgba(30,30,30,0.64)" stroke-width="1.7"/>
<circle cx="440.5" cy="1396.0" r="3.5" fill="none" stroke="rgba(30,30,30,0.64)" stroke-width="1.7"/>
<circle cx="440.5" cy="1406.8" r="3.5" fill="none" stroke="rgba(30,30,30,0.64)" stroke-width="1.7"/>
<circle cx="440.5" cy="1428.7" r="3.5" fill="none" stroke="rgba(30,30,30,0.64)" stroke-width="1.7"/>
<circle cx="440.5" cy="1437.0" r="3.5" fill="none" stroke="rgba(30,30,30,0.64)" stroke-width="1.7"/>
<line x1="503.7" y1="1424.1" x2="503.7" y2="1403.0" stroke="#000" stroke-width="1.8" />
<line x1="492.2" y1="1403.0" x2="515.2" y2="1403.0" stroke="#000" stroke-width="2" />
<line x1="503.7" y1="1464.8" x2="503.7" y2="1491.3" stroke="#000" stroke-width="1.8" />
<line x1="492.2" y1="1491.3" x2="515.2" y2="1491.3" stroke="#000" stroke-width="2" />
<rect x="482.0" y="1424.1" width="43.4" height="40.7" fill="#f7aa9c" stroke="#111" stroke-width="1.9"/>
<line x1="482.0" y1="1450.6" x2="525.4" y2="1450.6" stroke="#111" stroke-width="2.3" />
<circle cx="503.5" cy="1403.0" r="3.5" fill="none" stroke="rgba(30,30,30,0.64)" stroke-width="1.7"/>
<circle cx="503.5" cy="1429.7" r="3.5" fill="none" stroke="rgba(30,30,30,0.64)" stroke-width="1.7"/>
<circle cx="496.2" cy="1453.7" r="3.5" fill="none" stroke="rgba(30,30,30,0.64)" stroke-width="1.7"/>
<circle cx="510.2" cy="1447.5" r="3.5" fill="none" stroke="rgba(30,30,30,0.64)" stroke-width="1.7"/>
<circle cx="510.2" cy="1457.5" r="3.5" fill="none" stroke="rgba(30,30,30,0.64)" stroke-width="1.7"/>
<circle cx="503.5" cy="1491.3" r="3.5" fill="none" stroke="rgba(30,30,30,0.64)" stroke-width="1.7"/>
<path d="M405.1,1363.5 L405.1,1598.6 L543.7,1598.6" fill="none" stroke="#000" stroke-width="2"/>
<line x1="397.6" y1="1598.6" x2="405.1" y2="1598.6" stroke="#000" stroke-width="2" />
<text x="395.1" y="1606.9" font-size="24" text-anchor="end" fill="#000" >0.0</text>
<line x1="397.6" y1="1551.8" x2="405.1" y2="1551.8" stroke="#000" stroke-width="2" />
<text x="395.1" y="1560.1" font-size="24" text-anchor="end" fill="#000" >0.2</text>
<line x1="397.6" y1="1505.0" x2="405.1" y2="1505.0" stroke="#000" stroke-width="2" />
<text x="395.1" y="1513.3" font-size="24" text-anchor="end" fill="#000" >0.4</text>
<line x1="397.6" y1="1458.1" x2="405.1" y2="1458.1" stroke="#000" stroke-width="2" />
<text x="395.1" y="1466.4" font-size="24" text-anchor="end" fill="#000" >0.6</text>
<line x1="397.6" y1="1411.3" x2="405.1" y2="1411.3" stroke="#000" stroke-width="2" />
<text x="395.1" y="1419.6" font-size="24" text-anchor="end" fill="#000" >0.8</text>
<line x1="397.6" y1="1364.5" x2="405.1" y2="1364.5" stroke="#000" stroke-width="2" />
<text x="395.1" y="1372.8" font-size="24" text-anchor="end" fill="#000" >1.0</text>
<line x1="440.5" y1="1598.6" x2="440.5" y2="1606.1" stroke="#000" stroke-width="2" />
<line x1="503.5" y1="1598.6" x2="503.5" y2="1606.1" stroke="#000" stroke-width="2" />
<text x="0.0" y="0.0" font-size="24" text-anchor="end" fill="#000" transform="translate(446.0,1624.6) rotate(-45)">All cells</text>
<text x="0.0" y="0.0" font-size="24" text-anchor="end" fill="#000" transform="translate(509.0,1624.6) rotate(-45)">Responsive cells removed</text>
<path d="M440.5,1353.6 L440.5,1344.7 L503.5,1344.7 L503.5,1393.3" fill="none" stroke="#000" stroke-width="2.1"/>
<text x="473.5" y="1338.7" font-size="15.2" text-anchor="middle" fill="#000" ><tspan font-style="italic">P</tspan> = 0.06</text>
<text x="474.5" y="1267.1" font-size="23" text-anchor="middle" fill="#000" >Allolicking</text>
<text x="474.5" y="1289.0" font-size="23" text-anchor="middle" fill="#000" >vs.</text>
<text x="474.5" y="1310.9" font-size="23" text-anchor="middle" fill="#000" >self-licking</text>
<text x="328.5" y="1292.1" font-size="32" text-anchor="start" font-weight="bold" fill="#000" >g</text>
<line x1="723.8" y1="1385.3" x2="723.8" y2="1370.7" stroke="#000" stroke-width="1.8" />
<line x1="712.3" y1="1370.7" x2="735.3" y2="1370.7" stroke="#000" stroke-width="2" />
<line x1="723.8" y1="1438.7" x2="723.8" y2="1470.4" stroke="#000" stroke-width="1.8" />
<line x1="712.3" y1="1470.4" x2="735.3" y2="1470.4" stroke="#000" stroke-width="2" />
<rect x="702.2" y="1385.3" width="43.1" height="53.4" fill="#f87e7b" stroke="#111" stroke-width="1.9"/>
<line x1="702.2" y1="1414.1" x2="745.3" y2="1414.1" stroke="#111" stroke-width="2.3" />
<circle cx="716.3" cy="1373.4" r="3.5" fill="none" stroke="rgba(30,30,30,0.64)" stroke-width="1.7"/>
<circle cx="730.7" cy="1370.7" r="3.5" fill="none" stroke="rgba(30,30,30,0.64)" stroke-width="1.7"/>
<circle cx="716.3" cy="1383.9" r="3.5" fill="none" stroke="rgba(30,30,30,0.64)" stroke-width="1.7"/>
<circle cx="716.3" cy="1392.2" r="3.5" fill="none" stroke="rgba(30,30,30,0.64)" stroke-width="1.7"/>
<circle cx="730.7" cy="1389.1" r="3.5" fill="none" stroke="rgba(30,30,30,0.64)" stroke-width="1.7"/>
<circle cx="723.6" cy="1414.1" r="3.5" fill="none" stroke="rgba(30,30,30,0.64)" stroke-width="1.7"/>
<circle cx="723.6" cy="1422.0" r="3.5" fill="none" stroke="rgba(30,30,30,0.64)" stroke-width="1.7"/>
<circle cx="730.7" cy="1432.9" r="3.5" fill="none" stroke="rgba(30,30,30,0.64)" stroke-width="1.7"/>
<circle cx="716.3" cy="1439.7" r="3.5" fill="none" stroke="rgba(30,30,30,0.64)" stroke-width="1.7"/>
<circle cx="723.6" cy="1446.4" r="3.5" fill="none" stroke="rgba(30,30,30,0.64)" stroke-width="1.7"/>
<circle cx="723.6" cy="1470.4" r="3.5" fill="none" stroke="rgba(30,30,30,0.64)" stroke-width="1.7"/>
<line x1="786.4" y1="1446.4" x2="786.4" y2="1406.2" stroke="#000" stroke-width="1.8" />
<line x1="774.9" y1="1406.2" x2="797.9" y2="1406.2" stroke="#000" stroke-width="2" />
<line x1="786.4" y1="1521.5" x2="786.4" y2="1552.1" stroke="#000" stroke-width="1.8" />
<line x1="774.9" y1="1552.1" x2="797.9" y2="1552.1" stroke="#000" stroke-width="2" />
<rect x="764.7" y="1446.4" width="43.4" height="75.1" fill="#f7aa9c" stroke="#111" stroke-width="1.9"/>
<line x1="764.7" y1="1471.9" x2="808.1" y2="1471.9" stroke="#111" stroke-width="2.3" />
<circle cx="786.2" cy="1406.2" r="3.5" fill="none" stroke="rgba(30,30,30,0.64)" stroke-width="1.7"/>
<circle cx="786.2" cy="1415.1" r="3.5" fill="none" stroke="rgba(30,30,30,0.64)" stroke-width="1.7"/>
<circle cx="786.2" cy="1445.4" r="3.5" fill="none" stroke="rgba(30,30,30,0.64)" stroke-width="1.7"/>
<circle cx="786.2" cy="1453.7" r="3.5" fill="none" stroke="rgba(30,30,30,0.64)" stroke-width="1.7"/>
<circle cx="786.2" cy="1468.7" r="3.5" fill="none" stroke="rgba(30,30,30,0.64)" stroke-width="1.7"/>
<circle cx="772.0" cy="1472.5" r="3.5" fill="none" stroke="rgba(30,30,30,0.64)" stroke-width="1.7"/>
<circle cx="800.2" cy="1472.5" r="3.5" fill="none" stroke="rgba(30,30,30,0.64)" stroke-width="1.7"/>
<circle cx="786.2" cy="1496.9" r="3.5" fill="none" stroke="rgba(30,30,30,0.64)" stroke-width="1.7"/>
<circle cx="779.3" cy="1523.0" r="3.5" fill="none" stroke="rgba(30,30,30,0.64)" stroke-width="1.7"/>
<circle cx="793.3" cy="1523.0" r="3.5" fill="none" stroke="rgba(30,30,30,0.64)" stroke-width="1.7"/>
<circle cx="786.2" cy="1552.1" r="3.5" fill="none" stroke="rgba(30,30,30,0.64)" stroke-width="1.7"/>
<path d="M688.2,1364.7 L688.2,1599.7 L826.2,1599.7" fill="none" stroke="#000" stroke-width="2"/>
<line x1="680.7" y1="1599.7" x2="688.2" y2="1599.7" stroke="#000" stroke-width="2" />
<text x="678.2" y="1608.0" font-size="24" text-anchor="end" fill="#000" >0.0</text>
<line x1="680.7" y1="1552.9" x2="688.2" y2="1552.9" stroke="#000" stroke-width="2" />
<text x="678.2" y="1561.2" font-size="24" text-anchor="end" fill="#000" >0.2</text>
<line x1="680.7" y1="1506.1" x2="688.2" y2="1506.1" stroke="#000" stroke-width="2" />
<text x="678.2" y="1514.4" font-size="24" text-anchor="end" fill="#000" >0.4</text>
<line x1="680.7" y1="1459.3" x2="688.2" y2="1459.3" stroke="#000" stroke-width="2" />
<text x="678.2" y="1467.6" font-size="24" text-anchor="end" fill="#000" >0.6</text>
<line x1="680.7" y1="1412.5" x2="688.2" y2="1412.5" stroke="#000" stroke-width="2" />
<text x="678.2" y="1420.8" font-size="24" text-anchor="end" fill="#000" >0.8</text>
<line x1="680.7" y1="1365.7" x2="688.2" y2="1365.7" stroke="#000" stroke-width="2" />
<text x="678.2" y="1374.0" font-size="24" text-anchor="end" fill="#000" >1.0</text>
<line x1="723.6" y1="1599.7" x2="723.6" y2="1607.2" stroke="#000" stroke-width="2" />
<line x1="786.2" y1="1599.7" x2="786.2" y2="1607.2" stroke="#000" stroke-width="2" />
<text x="0.0" y="0.0" font-size="24" text-anchor="end" fill="#000" transform="translate(729.1,1625.7) rotate(-45)">All cells</text>
<text x="0.0" y="0.0" font-size="24" text-anchor="end" fill="#000" transform="translate(791.7,1625.7) rotate(-45)">Responsive cells removed</text>
<path d="M723.6,1361.0 L723.6,1350.5 L786.2,1350.5 L786.2,1396.0" fill="none" stroke="#000" stroke-width="2.1"/>
<text x="754.9" y="1346.8" font-size="16.5" text-anchor="middle" font-weight="bold" fill="#000" style="font-family:DejaVu Sans,sans-serif" stroke="#000" stroke-width="0.6">***</text>
<text x="757.0" y="1267.1" font-size="23" text-anchor="middle" fill="#000" >Allolicking</text>
<text x="757.0" y="1289.0" font-size="23" text-anchor="middle" fill="#000" >vs.</text>
<text x="757.0" y="1310.9" font-size="23" text-anchor="middle" fill="#000" >investigation</text>
<text x="614.5" y="1292.5" font-size="32" text-anchor="start" font-weight="bold" fill="#000" >h</text>
<line x1="1010.2" y1="1381.2" x2="1010.2" y2="1367.6" stroke="#000" stroke-width="1.8" />
<line x1="998.7" y1="1367.6" x2="1021.7" y2="1367.6" stroke="#000" stroke-width="2" />
<line x1="1010.2" y1="1435.6" x2="1010.2" y2="1504.4" stroke="#000" stroke-width="1.8" />
<line x1="998.7" y1="1504.4" x2="1021.7" y2="1504.4" stroke="#000" stroke-width="2" />
<rect x="988.6" y="1381.2" width="43.2" height="54.4" fill="#f9a6f9" stroke="#111" stroke-width="1.9"/>
<line x1="988.6" y1="1397.8" x2="1031.8" y2="1397.8" stroke="#111" stroke-width="2.3" />
<circle cx="1009.9" cy="1367.2" r="3.5" fill="none" stroke="rgba(30,30,30,0.64)" stroke-width="1.7"/>
<circle cx="1023.9" cy="1370.7" r="3.5" fill="none" stroke="rgba(30,30,30,0.64)" stroke-width="1.7"/>
<circle cx="1009.9" cy="1376.6" r="3.5" fill="none" stroke="rgba(30,30,30,0.64)" stroke-width="1.7"/>
<circle cx="995.9" cy="1391.2" r="3.5" fill="none" stroke="rgba(30,30,30,0.64)" stroke-width="1.7"/>
<circle cx="1009.9" cy="1390.1" r="3.5" fill="none" stroke="rgba(30,30,30,0.64)" stroke-width="1.7"/>
<circle cx="1023.9" cy="1391.6" r="3.5" fill="none" stroke="rgba(30,30,30,0.64)" stroke-width="1.7"/>
<circle cx="1009.9" cy="1403.3" r="3.5" fill="none" stroke="rgba(30,30,30,0.64)" stroke-width="1.7"/>
<circle cx="1009.9" cy="1412.4" r="3.5" fill="none" stroke="rgba(30,30,30,0.64)" stroke-width="1.7"/>
<circle cx="1009.9" cy="1423.1" r="3.5" fill="none" stroke="rgba(30,30,30,0.64)" stroke-width="1.7"/>
<circle cx="1009.9" cy="1441.2" r="3.5" fill="none" stroke="rgba(30,30,30,0.64)" stroke-width="1.7"/>
<circle cx="1009.9" cy="1480.4" r="3.5" fill="none" stroke="rgba(30,30,30,0.64)" stroke-width="1.7"/>
<circle cx="1009.9" cy="1504.4" r="3.5" fill="none" stroke="rgba(30,30,30,0.64)" stroke-width="1.7"/>
<line x1="1072.8" y1="1407.4" x2="1072.8" y2="1391.8" stroke="#000" stroke-width="1.8" />
<line x1="1061.3" y1="1391.8" x2="1084.3" y2="1391.8" stroke="#000" stroke-width="2" />
<line x1="1072.8" y1="1487.1" x2="1072.8" y2="1509.0" stroke="#000" stroke-width="1.8" />
<line x1="1061.3" y1="1509.0" x2="1084.3" y2="1509.0" stroke="#000" stroke-width="2" />
<rect x="1051.2" y="1407.4" width="43.1" height="79.7" fill="#fbe0fb" stroke="#111" stroke-width="1.9"/>
<line x1="1051.2" y1="1450.0" x2="1094.3" y2="1450.0" stroke="#111" stroke-width="2.3" />
<circle cx="1079.7" cy="1391.6" r="3.5" fill="none" stroke="rgba(30,30,30,0.64)" stroke-width="1.7"/>
<circle cx="1065.8" cy="1396.4" r="3.5" fill="none" stroke="rgba(30,30,30,0.64)" stroke-width="1.7"/>
<circle cx="1079.7" cy="1400.6" r="3.5" fill="none" stroke="rgba(30,30,30,0.64)" stroke-width="1.7"/>
<circle cx="1072.9" cy="1424.5" r="3.5" fill="none" stroke="rgba(30,30,30,0.64)" stroke-width="1.7"/>
<circle cx="1065.8" cy="1435.6" r="3.5" fill="none" stroke="rgba(30,30,30,0.64)" stroke-width="1.7"/>
<circle cx="1079.7" cy="1440.8" r="3.5" fill="none" stroke="rgba(30,30,30,0.64)" stroke-width="1.7"/>
<circle cx="1065.8" cy="1461.0" r="3.5" fill="none" stroke="rgba(30,30,30,0.64)" stroke-width="1.7"/>
<circle cx="1079.7" cy="1460.0" r="3.5" fill="none" stroke="rgba(30,30,30,0.64)" stroke-width="1.7"/>
<circle cx="1072.9" cy="1468.9" r="3.5" fill="none" stroke="rgba(30,30,30,0.64)" stroke-width="1.7"/>
<circle cx="1065.8" cy="1494.0" r="3.5" fill="none" stroke="rgba(30,30,30,0.64)" stroke-width="1.7"/>
<circle cx="1079.7" cy="1499.6" r="3.5" fill="none" stroke="rgba(30,30,30,0.64)" stroke-width="1.7"/>
<circle cx="1072.9" cy="1509.0" r="3.5" fill="none" stroke="rgba(30,30,30,0.64)" stroke-width="1.7"/>
<path d="M974.4,1364.5 L974.4,1599.7 L1112.7,1599.7" fill="none" stroke="#000" stroke-width="2"/>
<line x1="966.9" y1="1599.7" x2="974.4" y2="1599.7" stroke="#000" stroke-width="2" />
<text x="964.4" y="1608.0" font-size="24" text-anchor="end" fill="#000" >0.0</text>
<line x1="966.9" y1="1552.9" x2="974.4" y2="1552.9" stroke="#000" stroke-width="2" />
<text x="964.4" y="1561.2" font-size="24" text-anchor="end" fill="#000" >0.2</text>
<line x1="966.9" y1="1506.0" x2="974.4" y2="1506.0" stroke="#000" stroke-width="2" />
<text x="964.4" y="1514.3" font-size="24" text-anchor="end" fill="#000" >0.4</text>
<line x1="966.9" y1="1459.2" x2="974.4" y2="1459.2" stroke="#000" stroke-width="2" />
<text x="964.4" y="1467.5" font-size="24" text-anchor="end" fill="#000" >0.6</text>
<line x1="966.9" y1="1412.3" x2="974.4" y2="1412.3" stroke="#000" stroke-width="2" />
<text x="964.4" y="1420.6" font-size="24" text-anchor="end" fill="#000" >0.8</text>
<line x1="966.9" y1="1365.5" x2="974.4" y2="1365.5" stroke="#000" stroke-width="2" />
<text x="964.4" y="1373.8" font-size="24" text-anchor="end" fill="#000" >1.0</text>
<line x1="1009.9" y1="1599.7" x2="1009.9" y2="1607.2" stroke="#000" stroke-width="2" />
<line x1="1072.9" y1="1599.7" x2="1072.9" y2="1607.2" stroke="#000" stroke-width="2" />
<text x="0.0" y="0.0" font-size="24" text-anchor="end" fill="#000" transform="translate(1015.4,1625.7) rotate(-45)">All cells</text>
<text x="0.0" y="0.0" font-size="24" text-anchor="end" fill="#000" transform="translate(1078.4,1625.7) rotate(-45)">Responsive cells removed</text>
<path d="M1009.9,1357.8 L1009.9,1347.4 L1072.9,1347.4 L1072.9,1381.8" fill="none" stroke="#000" stroke-width="2.1"/>
<text x="1041.4" y="1344.7" font-size="14" text-anchor="middle" font-weight="bold" fill="#000" style="font-family:DejaVu Sans,sans-serif" stroke="#000" stroke-width="0.6">***</text>
<text x="1043.5" y="1267.1" font-size="23" text-anchor="middle" fill="#000" >Allogrooming</text>
<text x="1043.5" y="1289.0" font-size="23" text-anchor="middle" fill="#000" >vs.</text>
<text x="1043.5" y="1310.9" font-size="23" text-anchor="middle" fill="#000" >self-grooming</text>
<text x="914.0" y="1292.1" font-size="32" text-anchor="start" font-weight="bold" fill="#000" >i</text>
<line x1="1298.1" y1="1382.8" x2="1298.1" y2="1365.7" stroke="#000" stroke-width="1.8" />
<line x1="1286.6" y1="1366.1" x2="1309.6" y2="1366.1" stroke="#444" stroke-width="1.2" />
<line x1="1298.1" y1="1452.7" x2="1298.1" y2="1504.8" stroke="#000" stroke-width="1.8" />
<line x1="1286.6" y1="1504.8" x2="1309.6" y2="1504.8" stroke="#000" stroke-width="2" />
<rect x="1276.5" y="1382.8" width="43.2" height="69.9" fill="#f9a6f9" stroke="#111" stroke-width="1.9"/>
<line x1="1276.5" y1="1408.3" x2="1319.7" y2="1408.3" stroke="#111" stroke-width="2.3" />
<circle cx="1298.2" cy="1365.7" r="3.5" fill="none" stroke="rgba(30,30,30,0.64)" stroke-width="1.7"/>
<circle cx="1291.1" cy="1379.3" r="3.5" fill="none" stroke="rgba(30,30,30,0.64)" stroke-width="1.7"/>
<circle cx="1305.1" cy="1381.8" r="3.5" fill="none" stroke="rgba(30,30,30,0.64)" stroke-width="1.7"/>
<circle cx="1305.1" cy="1392.8" r="3.5" fill="none" stroke="rgba(30,30,30,0.64)" stroke-width="1.7"/>
<circle cx="1291.1" cy="1398.5" r="3.5" fill="none" stroke="rgba(30,30,30,0.64)" stroke-width="1.7"/>
<circle cx="1298.2" cy="1408.5" r="3.5" fill="none" stroke="rgba(30,30,30,0.64)" stroke-width="1.7"/>
<circle cx="1298.2" cy="1419.3" r="3.5" fill="none" stroke="rgba(30,30,30,0.64)" stroke-width="1.7"/>
<circle cx="1298.2" cy="1440.6" r="3.5" fill="none" stroke="rgba(30,30,30,0.64)" stroke-width="1.7"/>
<circle cx="1298.2" cy="1453.7" r="3.5" fill="none" stroke="rgba(30,30,30,0.64)" stroke-width="1.7"/>
<circle cx="1298.2" cy="1472.5" r="3.5" fill="none" stroke="rgba(30,30,30,0.64)" stroke-width="1.7"/>
<circle cx="1298.2" cy="1505.2" r="3.5" fill="none" stroke="rgba(30,30,30,0.64)" stroke-width="1.7"/>
<line x1="1360.7" y1="1426.2" x2="1360.7" y2="1407.4" stroke="#000" stroke-width="1.8" />
<line x1="1349.2" y1="1407.4" x2="1372.2" y2="1407.4" stroke="#000" stroke-width="2" />
<line x1="1360.7" y1="1477.7" x2="1360.7" y2="1548.6" stroke="#000" stroke-width="1.8" />
<line x1="1349.2" y1="1548.6" x2="1372.2" y2="1548.6" stroke="#000" stroke-width="2" />
<rect x="1339.1" y="1426.2" width="43.2" height="51.5" fill="#fbe0fb" stroke="#111" stroke-width="1.9"/>
<line x1="1339.1" y1="1456.4" x2="1382.3" y2="1456.4" stroke="#111" stroke-width="2.3" />
<circle cx="1354.1" cy="1407.8" r="3.5" fill="none" stroke="rgba(30,30,30,0.64)" stroke-width="1.7"/>
<circle cx="1368.1" cy="1414.5" r="3.5" fill="none" stroke="rgba(30,30,30,0.64)" stroke-width="1.7"/>
<circle cx="1361.0" cy="1425.6" r="3.5" fill="none" stroke="rgba(30,30,30,0.64)" stroke-width="1.7"/>
<circle cx="1361.0" cy="1436.0" r="3.5" fill="none" stroke="rgba(30,30,30,0.64)" stroke-width="1.7"/>
<circle cx="1361.0" cy="1443.9" r="3.5" fill="none" stroke="rgba(30,30,30,0.64)" stroke-width="1.7"/>
<circle cx="1361.0" cy="1456.8" r="3.5" fill="none" stroke="rgba(30,30,30,0.64)" stroke-width="1.7"/>
<circle cx="1354.1" cy="1469.4" r="3.5" fill="none" stroke="rgba(30,30,30,0.64)" stroke-width="1.7"/>
<circle cx="1368.1" cy="1472.5" r="3.5" fill="none" stroke="rgba(30,30,30,0.64)" stroke-width="1.7"/>
<circle cx="1354.1" cy="1478.7" r="3.5" fill="none" stroke="rgba(30,30,30,0.64)" stroke-width="1.7"/>
<circle cx="1361.0" cy="1494.0" r="3.5" fill="none" stroke="rgba(30,30,30,0.64)" stroke-width="1.7"/>
<circle cx="1361.0" cy="1548.6" r="3.5" fill="none" stroke="rgba(30,30,30,0.64)" stroke-width="1.7"/>
<path d="M1262.8,1364.5 L1262.8,1599.7 L1400.6,1599.7" fill="none" stroke="#000" stroke-width="2"/>
<line x1="1255.3" y1="1599.7" x2="1262.8" y2="1599.7" stroke="#000" stroke-width="2" />
<text x="1252.8" y="1608.0" font-size="24" text-anchor="end" fill="#000" >0.0</text>
<line x1="1255.3" y1="1552.9" x2="1262.8" y2="1552.9" stroke="#000" stroke-width="2" />
<text x="1252.8" y="1561.2" font-size="24" text-anchor="end" fill="#000" >0.2</text>
<line x1="1255.3" y1="1506.0" x2="1262.8" y2="1506.0" stroke="#000" stroke-width="2" />
<text x="1252.8" y="1514.3" font-size="24" text-anchor="end" fill="#000" >0.4</text>
<line x1="1255.3" y1="1459.2" x2="1262.8" y2="1459.2" stroke="#000" stroke-width="2" />
<text x="1252.8" y="1467.5" font-size="24" text-anchor="end" fill="#000" >0.6</text>
<line x1="1255.3" y1="1412.3" x2="1262.8" y2="1412.3" stroke="#000" stroke-width="2" />
<text x="1252.8" y="1420.6" font-size="24" text-anchor="end" fill="#000" >0.8</text>
<line x1="1255.3" y1="1365.5" x2="1262.8" y2="1365.5" stroke="#000" stroke-width="2" />
<text x="1252.8" y="1373.8" font-size="24" text-anchor="end" fill="#000" >1.0</text>
<line x1="1298.2" y1="1599.7" x2="1298.2" y2="1607.2" stroke="#000" stroke-width="2" />
<line x1="1361.0" y1="1599.7" x2="1361.0" y2="1607.2" stroke="#000" stroke-width="2" />
<text x="0.0" y="0.0" font-size="24" text-anchor="end" fill="#000" transform="translate(1303.7,1625.7) rotate(-45)">All cells</text>
<text x="0.0" y="0.0" font-size="24" text-anchor="end" fill="#000" transform="translate(1366.5,1625.7) rotate(-45)">Responsive cells removed</text>
<path d="M1298.2,1355.0 L1298.2,1344.7 L1361.0,1344.7 L1361.0,1397.8" fill="none" stroke="#000" stroke-width="2.1"/>
<text x="1329.6" y="1341.8" font-size="14" text-anchor="middle" font-weight="bold" fill="#000" style="font-family:DejaVu Sans,sans-serif" stroke="#000" stroke-width="0.6">***</text>
<text x="1331.6" y="1267.1" font-size="23" text-anchor="middle" fill="#000" >Allogrooming</text>
<text x="1331.6" y="1289.0" font-size="23" text-anchor="middle" fill="#000" >vs.</text>
<text x="1331.6" y="1310.9" font-size="23" text-anchor="middle" fill="#000" >investigation</text>
<text x="1201.0" y="1292.1" font-size="32" text-anchor="start" font-weight="bold" fill="#000" >j</text>
<line x1="1667.4" y1="1429.3" x2="1667.4" y2="1416.8" stroke="#000" stroke-width="1.8" />
<line x1="1659.6" y1="1416.8" x2="1675.2" y2="1416.8" stroke="#000" stroke-width="2" />
<line x1="1667.4" y1="1445.0" x2="1667.4" y2="1464.5" stroke="#000" stroke-width="1.8" />
<line x1="1659.6" y1="1464.5" x2="1675.2" y2="1464.5" stroke="#000" stroke-width="2" />
<rect x="1652.6" y="1429.3" width="29.6" height="15.7" fill="#4eabf2" stroke="#111" stroke-width="1.9"/>
<line x1="1652.6" y1="1438.3" x2="1682.2" y2="1438.3" stroke="#111" stroke-width="2.3" />
<line x1="1710.5" y1="1461.2" x2="1710.5" y2="1445.6" stroke="#000" stroke-width="1.8" />
<line x1="1702.7" y1="1445.6" x2="1718.3" y2="1445.6" stroke="#000" stroke-width="2" />
<line x1="1710.5" y1="1473.1" x2="1710.5" y2="1483.7" stroke="#000" stroke-width="1.8" />
<line x1="1702.7" y1="1483.7" x2="1718.3" y2="1483.7" stroke="#000" stroke-width="2" />
<rect x="1695.6" y="1461.2" width="29.8" height="11.9" fill="#27ae17" stroke="#111" stroke-width="1.9"/>
<line x1="1695.6" y1="1468.5" x2="1725.4" y2="1468.5" stroke="#111" stroke-width="2.3" />
<circle cx="1710.2" cy="1498.3" r="1.6" fill="#2fb31f"/>
<line x1="1753.3" y1="1474.3" x2="1753.3" y2="1473.7" stroke="#000" stroke-width="1.8" />
<line x1="1745.5" y1="1473.7" x2="1761.1" y2="1473.7" stroke="#000" stroke-width="2" />
<line x1="1753.3" y1="1491.0" x2="1753.3" y2="1511.9" stroke="#000" stroke-width="1.8" />
<line x1="1745.5" y1="1511.9" x2="1761.1" y2="1511.9" stroke="#000" stroke-width="2" />
<rect x="1738.5" y="1474.3" width="29.6" height="16.7" fill="#e488f2" stroke="#111" stroke-width="1.9"/>
<line x1="1738.5" y1="1479.6" x2="1768.1" y2="1479.6" stroke="#111" stroke-width="2.3" />
<path d="M1642.4,1356.0 L1642.4,1591.1 L1780.6,1591.1" fill="none" stroke="#000" stroke-width="2"/>
<line x1="1634.9" y1="1591.1" x2="1642.4" y2="1591.1" stroke="#000" stroke-width="2" />
<text x="1632.4" y="1599.4" font-size="24" text-anchor="end" fill="#000" >0.00</text>
<line x1="1634.9" y1="1513.1" x2="1642.4" y2="1513.1" stroke="#000" stroke-width="2" />
<text x="1632.4" y="1521.4" font-size="24" text-anchor="end" fill="#000" >0.05</text>
<line x1="1634.9" y1="1435.0" x2="1642.4" y2="1435.0" stroke="#000" stroke-width="2" />
<text x="1632.4" y="1443.3" font-size="24" text-anchor="end" fill="#000" >0.10</text>
<line x1="1634.9" y1="1357.0" x2="1642.4" y2="1357.0" stroke="#000" stroke-width="2" />
<text x="1632.4" y="1365.3" font-size="24" text-anchor="end" fill="#000" >0.15</text>
<line x1="1667.6" y1="1591.1" x2="1667.6" y2="1598.6" stroke="#000" stroke-width="2" />
<line x1="1710.2" y1="1591.1" x2="1710.2" y2="1598.6" stroke="#000" stroke-width="2" />
<line x1="1753.5" y1="1591.1" x2="1753.5" y2="1598.6" stroke="#000" stroke-width="2" />
<text x="0.0" y="0.0" font-size="19" text-anchor="end" fill="#000" transform="translate(1671.6,1611.1) rotate(-45)">PC1</text>
<text x="0.0" y="0.0" font-size="19" text-anchor="end" fill="#000" transform="translate(1714.2,1611.1) rotate(-45)">PC2</text>
<text x="0.0" y="0.0" font-size="19" text-anchor="end" fill="#000" transform="translate(1757.5,1611.1) rotate(-45)">PC3</text>
<text x="1543.0" y="1294.4" font-size="32" text-anchor="start" font-weight="bold" fill="#000" >k</text>
<text x="0.0" y="0.0" font-size="24" text-anchor="middle" fill="#000" transform="translate(1561.5,1472.2) rotate(-90)">Fraction of variance</text>
<line x1="1897.9" y1="1416.8" x2="1897.9" y2="1410.9" stroke="#000" stroke-width="1.8" />
<line x1="1890.1" y1="1410.9" x2="1905.7" y2="1410.9" stroke="#000" stroke-width="2" />
<line x1="1897.9" y1="1439.3" x2="1897.9" y2="1468.0" stroke="#000" stroke-width="1.8" />
<line x1="1890.1" y1="1468.0" x2="1905.7" y2="1468.0" stroke="#000" stroke-width="2" />
<rect x="1883.8" y="1416.8" width="28.2" height="22.5" fill="#4eabf2" stroke="#111" stroke-width="1.9"/>
<line x1="1883.8" y1="1426.1" x2="1912.0" y2="1426.1" stroke="#111" stroke-width="2.3" />
<line x1="1938.8" y1="1452.8" x2="1938.8" y2="1434.7" stroke="#000" stroke-width="1.8" />
<line x1="1931.0" y1="1434.7" x2="1946.6" y2="1434.7" stroke="#000" stroke-width="2" />
<line x1="1938.8" y1="1477.4" x2="1938.8" y2="1508.1" stroke="#000" stroke-width="1.8" />
<line x1="1931.0" y1="1508.1" x2="1946.6" y2="1508.1" stroke="#000" stroke-width="2" />
<rect x="1925.0" y="1452.8" width="27.7" height="24.6" fill="#27ae17" stroke="#111" stroke-width="1.9"/>
<line x1="1925.0" y1="1465.3" x2="1952.6" y2="1465.3" stroke="#111" stroke-width="2.3" />
<line x1="1980.0" y1="1457.2" x2="1980.0" y2="1448.9" stroke="#000" stroke-width="1.8" />
<line x1="1972.2" y1="1448.9" x2="1987.8" y2="1448.9" stroke="#000" stroke-width="2" />
<line x1="1980.0" y1="1490.3" x2="1980.0" y2="1507.4" stroke="#000" stroke-width="1.8" />
<line x1="1972.2" y1="1507.4" x2="1987.8" y2="1507.4" stroke="#000" stroke-width="2" />
<rect x="1966.2" y="1457.2" width="27.5" height="33.1" fill="#e488f2" stroke="#111" stroke-width="1.9"/>
<line x1="1966.2" y1="1477.4" x2="1993.8" y2="1477.4" stroke="#111" stroke-width="2.3" />
<path d="M1874.9,1366.4 L1874.9,1590.0 L2010.0,1590.0" fill="none" stroke="#000" stroke-width="2"/>
<line x1="1867.4" y1="1590.0" x2="1874.9" y2="1590.0" stroke="#000" stroke-width="2" />
<text x="1864.9" y="1598.3" font-size="24" text-anchor="end" fill="#000" >0.00</text>
<line x1="1867.4" y1="1478.7" x2="1874.9" y2="1478.7" stroke="#000" stroke-width="2" />
<text x="1864.9" y="1487.0" font-size="24" text-anchor="end" fill="#000" >0.05</text>
<line x1="1867.4" y1="1367.4" x2="1874.9" y2="1367.4" stroke="#000" stroke-width="2" />
<text x="1864.9" y="1375.7" font-size="24" text-anchor="end" fill="#000" >0.10</text>
<line x1="1897.8" y1="1590.0" x2="1897.8" y2="1597.5" stroke="#000" stroke-width="2" />
<line x1="1938.8" y1="1590.0" x2="1938.8" y2="1597.5" stroke="#000" stroke-width="2" />
<line x1="1979.7" y1="1590.0" x2="1979.7" y2="1597.5" stroke="#000" stroke-width="2" />
<text x="0.0" y="0.0" font-size="19" text-anchor="end" fill="#000" transform="translate(1901.8,1610.0) rotate(-45)">PLSC1</text>
<text x="0.0" y="0.0" font-size="19" text-anchor="end" fill="#000" transform="translate(1942.8,1610.0) rotate(-45)">PLSC2</text>
<text x="0.0" y="0.0" font-size="19" text-anchor="end" fill="#000" transform="translate(1983.7,1610.0) rotate(-45)">PLSC3</text>
<text x="1805.0" y="1294.4" font-size="32" text-anchor="start" font-weight="bold" fill="#000" >l</text>
</svg>
</body></html>
